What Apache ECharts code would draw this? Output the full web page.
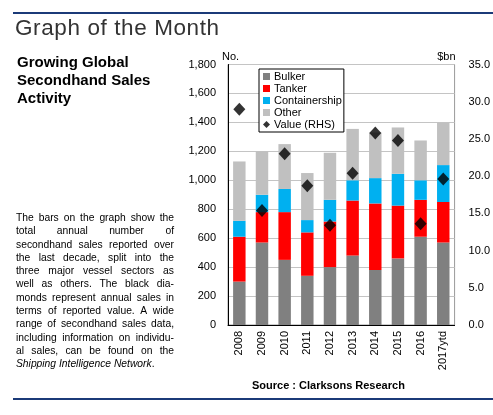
<!DOCTYPE html>
<html>
<head>
<meta charset="utf-8">
<script src="https://cdn.jsdelivr.net/npm/echarts@6/dist/echarts.min.js"></script>
<style>
html,body{margin:0;padding:0;background:#fff;}
body{width:493px;height:415px;position:relative;overflow:hidden;font-family:"Liberation Sans",Arial,sans-serif;}
#chart{position:absolute;left:0;top:0;width:493px;height:415px;}
.rule{position:absolute;left:13px;right:0;height:2px;background:#1b3a78;}
#title{position:absolute;left:15px;top:15px;font-size:22.5px;color:#333;letter-spacing:0.6px;}
#sub{position:absolute;left:17px;top:53px;font-size:15px;font-weight:bold;line-height:18px;color:#000;}
#para{position:absolute;left:16px;top:211px;width:158px;font-size:10.3px;line-height:13.3px;color:#000;}
#para div{text-align:justify;text-align-last:justify;white-space:nowrap;}
#para div.last{text-align-last:left;}
</style>
</head>
<body>
<div id="chart"></div>
<div class="rule" style="top:12px"></div>
<div class="rule" style="top:398px"></div>
<div id="title">Graph of the Month</div>
<div id="sub">Growing Global<br>Secondhand Sales<br>Activity</div>
<div id="para">
<div>The bars on the graph show the</div>
<div>total annual number of</div>
<div>secondhand sales reported over</div>
<div>the last decade, split into the</div>
<div>three major vessel sectors as</div>
<div>well as others. The black dia-</div>
<div>monds represent annual sales in</div>
<div>terms of reported value. A wide</div>
<div>range of secondhand sales data,</div>
<div>including information on individu-</div>
<div>al sales, can be found on the</div>
<div class="last"><i>Shipping Intelligence Network</i>.</div>
</div>
<script>
var years = ['2008','2009','2010','2011','2012','2013','2014','2015','2016','2017ytd'];
var bulker = [300, 570, 450, 340, 400, 480, 380, 460, 610, 570];
var tanker = [310, 210, 330, 300, 315, 380, 460, 365, 255, 280];
var containership = [110, 120, 160, 85, 150, 140, 175, 220, 135, 255];
var other = [410, 300, 310, 325, 325, 355, 315, 320, 275, 295];
var valueRHS = [29.0, 15.4, 23.0, 18.7, 13.4, 20.4, 25.8, 24.8, 13.6, 19.6];
var leftTicks = {min:0, max:1800, interval:200};
var rightTicks = {min:0, max:35, interval:5};

var chart = echarts.init(document.getElementById('chart'), null, {renderer:'canvas'});
var font = '"Liberation Sans", Arial, sans-serif';
function bar(name, data, color){
  return {name:name, type:'bar', stack:'total', data:data, barWidth:'55%',
    itemStyle:{color:color}, emphasis:{disabled:true}};
}
chart.setOption({
  animation:false,
  textStyle:{fontFamily:font},
  grid:{left:228, right:33, top:64.5, bottom:90, show:true, borderColor:'#9a9a9a', borderWidth:1, backgroundColor:'transparent'},
  legend:{
    orient:'vertical', left:259, top:69, itemWidth:7, itemHeight:7, itemGap:1,
    backgroundColor:'#fff', borderColor:'#000', borderWidth:1, padding:[2,2,2,4],
    textStyle:{fontSize:11, lineHeight:11, color:'#000', fontFamily:font, padding:[0,0,0,-1]},
    data:[{name:'Bulker',icon:'rect'},{name:'Tanker',icon:'rect'},{name:'Containership',icon:'rect'},{name:'Other',icon:'rect'},{name:'Value (RHS)',icon:'diamond'}]
  },
  xAxis:{type:'category', data:years,
    axisLine:{lineStyle:{color:'#000', width:1}}, axisTick:{show:false},
    axisLabel:{rotate:90, fontSize:11, color:'#000', margin:6, interval:0}},
  yAxis:[
    {type:'value', min:leftTicks.min, max:leftTicks.max, interval:leftTicks.interval,
     name:'No.', nameLocation:'end', nameGap:2, nameTextStyle:{fontSize:11, color:'#000', align:'left', padding:[0,0,0,-6]},
     axisLine:{show:true, lineStyle:{color:'#000'}}, axisTick:{show:false},
     splitLine:{lineStyle:{color:'#c4c4c4', width:1}},
     axisLabel:{fontSize:11, color:'#000', margin:12, formatter:function(v){return v.toLocaleString('en-US');}}},
    {type:'value', min:rightTicks.min, max:rightTicks.max, interval:rightTicks.interval,
     name:'$bn', nameLocation:'end', nameGap:2, nameTextStyle:{fontSize:11, color:'#000', align:'right', padding:[0,-1,0,0]},
     axisLine:{show:false}, axisTick:{show:false}, splitLine:{show:false},
     axisLabel:{fontSize:11, color:'#000', margin:14, formatter:function(v){return v.toFixed(1);}}}
  ],
  series:[
    bar('Bulker', bulker, '#808080'),
    bar('Tanker', tanker, '#ff0000'),
    bar('Containership', containership, '#00b0f0'),
    bar('Other', other, '#c0c0c0'),
    {name:'Value (RHS)', type:'scatter', yAxisIndex:1, data:valueRHS, symbol:'diamond', symbolSize:[12,13],
     itemStyle:{color:'#000'}, emphasis:{disabled:true}, z:5}
  ],
  graphic:[
    {type:'text', left:252, top:380, style:{text:'Source : Clarksons Research', font:'bold 11px '+font, fill:'#000'}}
  ]
});
</script>
</body>
</html>
